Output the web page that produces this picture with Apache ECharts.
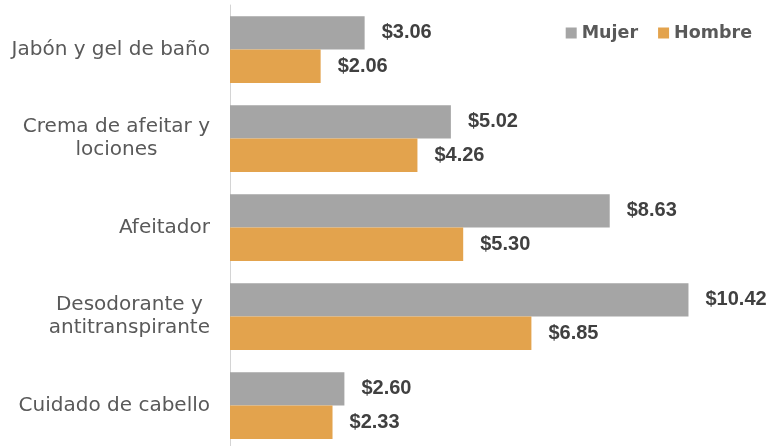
<!DOCTYPE html>
<html>
<head>
<meta charset="utf-8">
<script src="https://cdn.jsdelivr.net/npm/echarts@6/dist/echarts.min.js"></script>
<style>html,body{margin:0;padding:0;background:#fff;}#c{width:769px;height:446px;}</style>
</head>
<body>
<div id="c"></div>
<script>
var categories = ['Jabón y gel de baño', 'Crema de afeitar y\nlociones', 'Afeitador', 'Desodorante y\nantitranspirante', 'Cuidado de cabello'];
var mujer = [3.06, 5.02, 8.63, 10.42, 2.60];
var hombre = [2.06, 4.26, 5.30, 6.85, 2.33];
var seriesNames = ['Mujer', 'Hombre'];

var chart = echarts.init(document.getElementById('c'), null, {renderer: 'canvas'});
var labelCfg = {
  show: true, position: 'right', distance: 17,
  fontFamily: 'Liberation Sans', fontWeight: 'bold', fontSize: 20, color: '#404040',
  formatter: function (p) { return '$' + p.value.toFixed(2); }
};
chart.setOption({
  animation: false,
  legend: {
    right: 12, top: 19, itemWidth: 11, itemHeight: 11, itemGap: 20, icon: 'rect',
    textStyle: {fontFamily: 'DejaVu Sans', fontWeight: 'bold', fontSize: 17.5, color: '#595959', padding: [0, 0, 0, 0]},
    data: seriesNames
  },
  grid: {left: 230, top: 5, height: 445, right: 11, containLabel: false, outerBoundsMode: 'none'},
  xAxis: {type: 'value', min: 0, max: 12, show: false},
  yAxis: {
    type: 'category', data: categories, inverse: true,
    axisLine: {show: true, lineStyle: {color: '#d4d4d4', width: 1}},
    axisTick: {show: false},
    axisLabel: {
      margin: 20,
      formatter: function (v) { return v.split('\n').map(function (l) { return '{c|' + l + '}'; }).join('\n'); },
      rich: {c: {align: 'center', fontFamily: 'DejaVu Sans', fontSize: 20, color: '#595959', lineHeight: 23}}
    }
  },
  series: [
    {name: seriesNames[0], type: 'bar', data: mujer, barGap: '0%', barCategoryGap: '25%', itemStyle: {color: '#A5A5A5'}, label: labelCfg},
    {name: seriesNames[1], type: 'bar', data: hombre, barGap: '0%', barCategoryGap: '25%', itemStyle: {color: '#E3A34D'}, label: labelCfg}
  ]
});
</script>
</body>
</html>
